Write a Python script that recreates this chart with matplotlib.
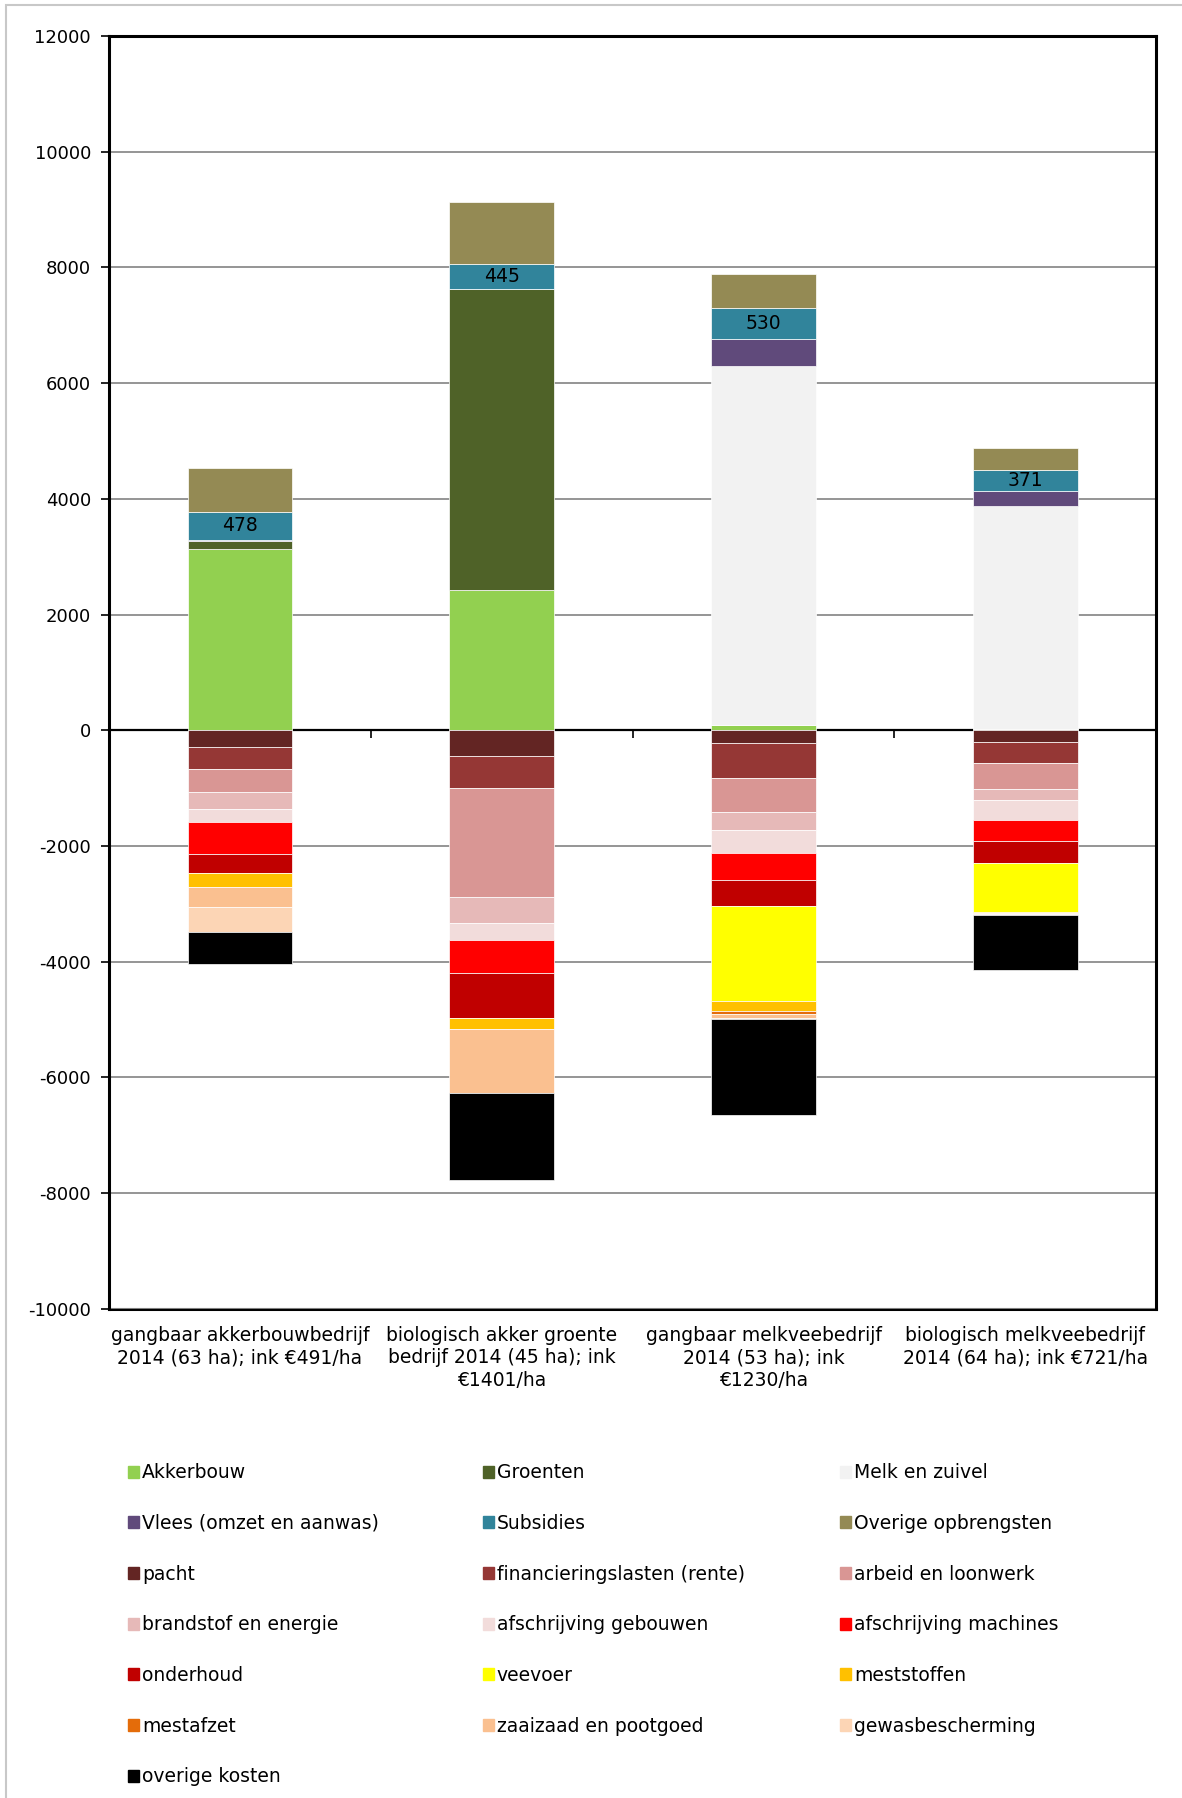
import matplotlib.pyplot as plt
import matplotlib.patches as mpatches
import numpy as np

plt.rcParams['font.family'] = ['DejaVu Sans']
plt.rcParams['axes.unicode_minus'] = False

# categories (x axis)
bedrijven = ['gangbaar akkerbouwbedrijf\n2014 (63 ha); ink €491/ha',
             'biologisch akker groente\nbedrijf 2014 (45 ha); ink\n€1401/ha',
             'gangbaar melkveebedrijf\n2014 (53 ha); ink\n€1230/ha',
             'biologisch melkveebedrijf\n2014 (64 ha); ink €721/ha']

# opbrengsten (positief, euro/ha)
akkerbouw = [3140, 2420, 90, 30]
groenten = [135, 5200, 0, 0]
melk = [0, 0, 6210, 3840]
vlees = [20, 0, 470, 260]
subsidies = [478, 445, 530, 371]
overige_opbr = [769, 1070, 585, 375]

# kosten (negatief, euro/ha)
pacht = [-290, -438, -214, -206]
financiering = [-382, -551, -612, -364]
arbeid = [-394, -1888, -583, -436]
brandstof = [-295, -461, -311, -206]
afschr_gebouwen = [-222, -281, -408, -345]
afschr_machines = [-560, -573, -466, -364]
onderhoud = [-320, -775, -437, -364]
veevoer = [0, 0, -1641, -848]
meststoffen = [-240, -191, -175, -20]
mestafzet = [0, 0, -58, 0]
zaaizaad = [-345, -1112, -60, -30]
gewasbescherming = [-431, 0, -18, -10]
overige_kosten = [-566, -1494, -1660, -952]

pos_series = [
    ('Akkerbouw', akkerbouw, '#92D050'),
    ('Groenten', groenten, '#4F6228'),
    ('Melk en zuivel', melk, '#F2F2F2'),
    ('Vlees (omzet en aanwas)', vlees, '#604A7B'),
    ('Subsidies', subsidies, '#31849B'),
    ('Overige opbrengsten', overige_opbr, '#948A54'),
]
neg_series = [
    ('pacht', pacht, '#632523'),
    ('financieringslasten (rente)', financiering, '#953735'),
    ('arbeid en loonwerk', arbeid, '#D99694'),
    ('brandstof en energie', brandstof, '#E6B9B8'),
    ('afschrijving gebouwen', afschr_gebouwen, '#F2DCDB'),
    ('afschrijving machines', afschr_machines, '#FF0000'),
    ('onderhoud', onderhoud, '#C00000'),
    ('veevoer', veevoer, '#FFFF00'),
    ('meststoffen', meststoffen, '#FFC000'),
    ('mestafzet', mestafzet, '#E46C0A'),
    ('zaaizaad en pootgoed', zaaizaad, '#FAC090'),
    ('gewasbescherming', gewasbescherming, '#FCD5B5'),
    ('overige kosten', overige_kosten, '#000000'),
]

fig = plt.figure(figsize=(11.82, 17.98), dpi=100)
ax = fig.add_axes([0.0922, 0.272, 0.886, 0.708])

x = np.arange(len(bedrijven))
w = 0.4
handles = []

bottom = np.zeros(len(x))
for name, vals, col in pos_series:
    vals = np.array(vals, dtype=float)
    ax.bar(x, vals, w, bottom=bottom, color=col, edgecolor='white', linewidth=0.5, zorder=3)
    if name == 'Subsidies':
        for xi, b, v in zip(x, bottom, vals):
            ax.text(xi, b + v / 2, f'{int(v)}', ha='center', va='center', fontsize=13.5, zorder=5)
    bottom = bottom + vals
    handles.append(mpatches.Patch(color=col, label=name))

bottom = np.zeros(len(x))
for name, vals, col in neg_series:
    vals = np.array(vals, dtype=float)
    ax.bar(x, vals, w, bottom=bottom, color=col, edgecolor='white', linewidth=0.5, zorder=3)
    bottom = bottom + vals
    handles.append(mpatches.Patch(color=col, label=name))

ax.set_xlim(-0.5, len(x) - 0.5)
ax.set_ylim(-10000, 12000)
ax.set_yticks(np.arange(-10000, 12001, 2000))
ax.tick_params(axis='y', labelsize=13, length=6, width=1.2, direction='out', pad=7)
ax.yaxis.grid(True, color='#8c8c8c', linewidth=1.3, zorder=0)
ax.set_axisbelow(True)

# zero line with ticks at the category boundaries
ax.spines['bottom'].set_position(('data', 0))
ax.spines['bottom'].set_linewidth(1.6)
ax.set_xticks(np.arange(0.5, len(x) - 0.5, 1))
ax.set_xticklabels([])
ax.tick_params(axis='x', length=6, width=1.2, direction='out')
for s in ['left', 'top', 'right']:
    ax.spines[s].set_linewidth(2.2)

# category labels below the frame
sec = ax.secondary_xaxis('bottom')
sec.set_xticks(x)
sec.set_xticklabels(bedrijven, fontsize=13.5, linespacing=1.25)
sec.tick_params(length=0, pad=12)
sec.spines['bottom'].set_linewidth(2.2)

# legend: three columns, row-wise order
cols_x = [0.1085, 0.4085, 0.7105]
for i, cx in enumerate(cols_x):
    fig.legend(handles=handles[i::3], loc='upper left', bbox_to_anchor=(cx, 0.1862),
               frameon=False, fontsize=13.5, handlelength=0.6, handleheight=0.6,
               handletextpad=0.15, labelspacing=1.69, borderpad=0, borderaxespad=0)

# light frame around the figure
fig.patches.append(mpatches.Rectangle((0.005, -0.01), 1.2, 1.007, transform=fig.transFigure,
                                      fill=False, edgecolor='#c8c8c8', linewidth=1.5))

plt.savefig('out.png', dpi=100)
